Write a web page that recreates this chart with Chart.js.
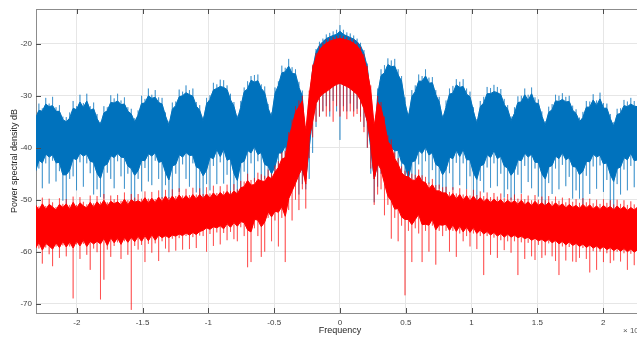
<!DOCTYPE html>
<html lang="en">
<head>
<meta charset="UTF-8" />
<title>Power spectral density</title>
<style>
  html, body { margin: 0; padding: 0; background: #fff; overflow: hidden; }
  canvas { display: block; }
</style>
</head>
<body>
<canvas id="psdChart" width="637" height="338"></canvas>
<script src="https://cdn.jsdelivr.net/npm/chart.js@4.4.1/dist/chart.umd.min.js"></script>
<script>
// frequency samples (x 1e4), one row per side lobe
const freq = [
  -2.314,-2.288,-2.262,-2.236,-2.210,-2.184,-2.158,-2.132,-2.106,
  -2.080,-2.054,-2.028,-2.002,-1.976,-1.950,-1.924,-1.898,-1.872,-1.846,
  -1.820,-1.794,-1.768,-1.742,-1.716,-1.690,-1.664,-1.638,-1.612,-1.586,
  -1.560,-1.534,-1.508,-1.482,-1.456,-1.430,-1.404,-1.378,-1.352,-1.326,
  -1.300,-1.274,-1.248,-1.222,-1.196,-1.170,-1.144,-1.118,-1.092,-1.066,
  -1.040,-1.014,-0.988,-0.962,-0.936,-0.910,-0.884,-0.858,-0.832,-0.806,
  -0.780,-0.754,-0.728,-0.702,-0.676,-0.650,-0.624,-0.598,-0.572,-0.546,
  -0.520,-0.494,-0.468,-0.442,-0.416,-0.390,-0.364,-0.338,-0.312,-0.286,
  -0.260,-0.234,-0.208,-0.182,-0.156,-0.130,-0.104,-0.078,-0.052,-0.026,
  0.000,0.026,0.052,0.078,0.104,0.130,0.156,0.182,0.208,0.234,
  0.260,0.286,0.312,0.338,0.364,0.390,0.416,0.442,0.468,0.494,
  0.520,0.546,0.572,0.598,0.624,0.650,0.676,0.702,0.728,0.754,
  0.780,0.806,0.832,0.858,0.884,0.910,0.936,0.962,0.988,1.014,
  1.040,1.066,1.092,1.118,1.144,1.170,1.196,1.222,1.248,1.274,
  1.300,1.326,1.352,1.378,1.404,1.430,1.456,1.482,1.508,1.534,
  1.560,1.586,1.612,1.638,1.664,1.690,1.716,1.742,1.768,1.794,
  1.820,1.846,1.872,1.898,1.924,1.950,1.976,2.002,2.028,2.054,
  2.080,2.106,2.132,2.158,2.184,2.210,2.236,2.262
];

// blue trace (dB): top of dense band, light hairs above it, bottom of dense band, light spikes below it
const blueHi = [
  -34.4,-32.8,-33.0,-31.6,-32.1,-31.9,-33.0,-33.0,-34.6,
  -35.0,-34.3,-32.4,-32.7,-31.2,-32.3,-31.0,-32.8,-32.5,-34.4,
  -35.6,-33.3,-32.9,-31.3,-31.4,-31.0,-31.7,-31.6,-33.0,-33.5,
  -35.1,-33.7,-31.5,-31.4,-30.0,-30.5,-30.3,-31.3,-31.6,-33.9,
  -35.7,-32.6,-31.9,-30.2,-30.0,-29.4,-29.8,-30.1,-32.0,-32.8,
  -34.9,-31.6,-30.7,-28.9,-28.6,-28.2,-28.4,-28.8,-30.8,-32.0,
  -34.6,-32.2,-29.2,-28.7,-27.0,-27.4,-27.1,-28.6,-29.4,-32.4,
  -34.2,-29.6,-28.0,-25.6,-25.4,-24.3,-25.7,-25.8,-28.4,-30.1,
  -41.0,-32.0,-25.0,-21.6,-20.3,-19.6,-19.0,-18.7,-18.4,-18.2,
  -17.6,-18.2,-18.5,-18.8,-19.1,-19.6,-20.4,-21.9,-24.6,-31.0,
  -41.5,-29.9,-26.1,-25.6,-24.0,-24.4,-24.3,-26.0,-27.2,-31.4,
  -34.2,-30.2,-29.2,-27.2,-27.2,-26.2,-27.6,-27.5,-29.8,-31.2,
  -34.5,-32.2,-29.7,-29.5,-27.9,-28.4,-28.2,-29.7,-30.2,-33.0,
  -35.4,-32.1,-31.4,-29.6,-29.6,-29.2,-29.4,-29.8,-31.7,-32.6,
  -34.8,-33.4,-31.3,-31.2,-29.8,-30.9,-29.6,-31.4,-31.5,-33.9,
  -35.7,-33.2,-32.7,-31.0,-31.1,-30.7,-31.2,-31.1,-32.8,-33.4,
  -35.0,-34.2,-32.2,-32.2,-30.8,-31.9,-30.6,-32.4,-32.4,-34.4,
  -35.9,-33.6,-33.4,-31.9,-32.1,-31.6,-32.0,-32.1
];
const blueHair = [
  -33.6,-31.5,-32.4,-30.4,-31.5,-30.2,-32.2,-31.8,-34.0,
  -34.1,-33.2,-31.0,-32.0,-29.8,-31.4,-29.6,-32.0,-31.3,-33.5,
  -35.0,-32.0,-32.2,-29.9,-30.5,-29.6,-30.9,-30.3,-32.2,-32.5,
  -34.3,-32.8,-30.0,-30.6,-28.6,-29.8,-28.9,-30.3,-30.4,-33.2,
  -34.9,-31.3,-31.1,-28.8,-29.2,-28.0,-28.9,-28.6,-31.2,-31.8,
  -34.0,-30.4,-29.9,-27.5,-27.8,-26.9,-27.0,-28.0,-29.6,-31.2,
  -33.8,-31.0,-28.4,-27.2,-26.2,-26.0,-25.9,-27.8,-28.2,-31.6,
  -33.2,-28.4,-27.2,-24.2,-24.6,-22.9,-24.5,-24.9,-27.3,-29.0,
  -40.0,-31.0,-24.2,-21.0,-19.6,-19.0,-18.2,-17.9,-17.6,-17.3,
  -16.4,-17.3,-17.8,-18.0,-18.4,-19.0,-19.8,-21.2,-23.8,-30.0,
  -40.5,-28.6,-24.9,-24.1,-22.8,-23.2,-22.9,-24.9,-26.2,-30.3,
  -33.4,-28.9,-28.0,-25.9,-26.2,-24.9,-26.5,-26.4,-28.9,-30.2,
  -33.8,-30.9,-28.6,-28.1,-26.8,-27.3,-26.8,-28.6,-29.2,-32.2,
  -34.5,-31.0,-30.2,-28.3,-28.5,-27.9,-28.3,-28.7,-30.6,-31.8,
  -34.0,-32.2,-30.1,-30.0,-28.6,-29.8,-28.4,-30.3,-30.7,-33.0,
  -34.9,-32.1,-31.6,-29.8,-30.0,-29.5,-30.2,-30.0,-31.9,-32.6,
  -34.2,-33.1,-31.0,-31.1,-29.7,-30.9,-29.4,-31.4,-31.5,-33.5,
  -35.1,-32.5,-32.4,-30.8,-31.1,-30.4,-31.0,-31.2
];
const blueLo = [
  -44.6,-42.4,-42.9,-41.2,-41.8,-41.3,-42.9,-42.8,-45.2,
  -45.2,-44.3,-42.0,-42.3,-41.0,-41.6,-41.2,-42.6,-42.8,-44.9,
  -45.9,-43.5,-43.1,-41.5,-41.9,-41.0,-41.8,-41.9,-43.5,-44.0,
  -45.3,-44.4,-42.4,-42.5,-41.1,-41.6,-40.9,-42.8,-42.6,-44.7,
  -46.2,-43.5,-43.2,-41.3,-41.8,-40.9,-41.5,-41.4,-43.7,-44.0,
  -45.4,-44.3,-41.8,-42.1,-40.3,-41.7,-40.2,-42.4,-42.1,-44.9,
  -46.3,-42.9,-42.6,-40.5,-41.0,-39.7,-41.3,-40.9,-43.2,-43.5,
  -45.0,-43.6,-41.0,-41.0,-39.6,-40.9,-39.5,-41.5,-42.0,-44.5,
  -46.0,-40.0,-34.0,-31.0,-29.5,-29.0,-28.5,-28.0,-28.0,-27.5,
  -27.5,-27.8,-28.0,-28.3,-28.7,-29.2,-30.2,-32.0,-35.0,-40.0,
  -46.0,-43.0,-42.0,-40.0,-40.5,-39.9,-40.6,-40.5,-42.8,-43.3,
  -45.9,-42.7,-42.5,-40.5,-41.1,-39.8,-41.4,-40.9,-43.2,-43.6,
  -45.2,-44.1,-41.8,-42.1,-40.4,-41.7,-40.3,-42.3,-42.3,-44.8,
  -46.1,-43.5,-43.2,-41.3,-41.9,-40.5,-42.1,-41.6,-43.5,-43.9,
  -45.3,-44.4,-42.3,-42.5,-41.0,-41.8,-41.2,-42.8,-42.8,-45.0,
  -46.0,-43.7,-43.4,-41.6,-42.1,-40.9,-42.3,-41.9,-43.6,-43.7,
  -45.2,-44.5,-42.6,-42.7,-41.2,-41.8,-41.4,-43.1,-42.9,-45.1,
  -46.5,-44.0,-43.7,-41.9,-42.3,-41.0,-42.5,-42.3
];
const blueMin = [
  -49.5,-44.0,-47.8,-43.0,-46.9,-42.5,-46.5,-44.5,-50.2,
  -51.0,-46.0,-45.5,-48.2,-42.8,-47.5,-43.0,-44.9,-49.0,-48.0,
  -49.5,-49.8,-44.8,-46.0,-47.8,-42.6,-45.5,-47.9,-45.0,-51.0,
  -51.5,-46.0,-48.4,-43.9,-46.5,-47.2,-42.5,-46.0,-49.8,-47.2,
  -49.8,-50.5,-45.0,-48.5,-43.2,-46.0,-47.5,-43.0,-48.6,-50.6,
  -51.8,-47.0,-48.2,-43.5,-47.0,-42.8,-46.9,-45.2,-49.5,-48.2,
  -49.0,-50.2,-44.6,-48.0,-43.0,-46.5,-42.6,-47.8,-46.0,-51.0,
  -51.4,-46.2,-47.8,-43.2,-46.9,-42.4,-46.0,-44.0,-49.0,-47.0,
  -48.0,-46.0,-41.0,-36.0,-34.0,-33.0,-32.0,-34.0,-31.0,-33.0,
  -38.5,-32.0,-33.0,-31.5,-33.0,-32.5,-34.0,-36.0,-40.0,-45.0,
  -50.5,-47.5,-45.0,-42.8,-47.0,-42.5,-46.8,-43.6,-49.0,-48.4,
  -52.0,-46.0,-48.3,-43.2,-47.5,-42.6,-46.9,-44.3,-49.3,-47.9,
  -49.6,-50.4,-44.9,-48.1,-42.9,-47.2,-43.0,-48.0,-45.5,-51.2,
  -51.8,-46.4,-48.6,-43.8,-47.7,-43.0,-47.4,-45.0,-49.6,-48.0,
  -50.0,-50.8,-45.2,-48.8,-43.5,-46.6,-47.8,-44.0,-49.4,-51.4,
  -52.0,-46.8,-48.9,-44.0,-48.0,-43.3,-47.4,-45.6,-49.8,-48.2,
  -49.8,-51.0,-45.4,-48.9,-43.6,-47.9,-43.4,-48.5,-46.2,-51.5,
  -52.2,-47.0,-49.0,-44.2,-48.2,-43.5,-47.6,-45.8
];

// red trace (dB): same four envelopes
const redHi = [
  -51.0,-52.0,-50.8,-51.9,-50.9,-51.4,-52.0,-50.9,-51.5,
  -50.8,-51.9,-50.5,-51.7,-50.6,-51.2,-51.6,-50.5,-51.5,-50.4,
  -51.2,-50.1,-51.3,-50.3,-50.8,-50.4,-51.0,-49.9,-51.0,-50.0,
  -50.5,-50.2,-50.6,-49.6,-50.7,-49.7,-50.6,-49.5,-50.4,-49.3,
  -50.3,-49.3,-50.2,-49.1,-50.0,-49.2,-50.0,-49.0,-49.9,-49.0,
  -49.8,-48.9,-49.7,-48.7,-49.5,-48.6,-49.3,-48.4,-49.2,-48.3,
  -48.9,-47.7,-47.5,-46.3,-47.2,-47.1,-46.1,-46.4,-46.5,-45.5,
  -46.0,-44.7,-43.8,-42.2,-41.9,-38.2,-35.9,-33.2,-32.1,-31.0,
  -37.0,-30.0,-25.0,-22.5,-21.2,-20.4,-19.9,-19.5,-19.3,-19.1,
  -19.0,-19.1,-19.3,-19.5,-19.9,-20.4,-21.3,-22.8,-25.3,-29.0,
  -36.0,-31.2,-32.3,-35.2,-38.8,-39.7,-42.1,-43.2,-44.8,-45.5,
  -45.6,-46.2,-46.3,-45.3,-46.5,-46.7,-47.9,-47.1,-48.3,-48.3,
  -48.7,-48.7,-49.6,-48.8,-49.9,-49.0,-50.1,-49.2,-50.3,-49.3,
  -50.3,-49.6,-50.4,-49.8,-50.6,-49.9,-50.5,-50.0,-50.8,-50.1,
  -50.7,-50.2,-50.9,-50.1,-51.0,-50.4,-51.2,-50.3,-51.1,-50.6,
  -51.2,-50.5,-51.4,-50.6,-51.3,-50.8,-51.6,-50.9,-51.5,-51.1,
  -51.7,-50.9,-51.6,-51.0,-51.8,-51.2,-51.9,-51.1,-51.7,-51.3,
  -52.0,-51.2,-51.9,-51.3,-52.1,-51.5,-52.0,-51.4
];
const redHair = [
  -50.2,-51.3,-49.6,-51.2,-49.8,-50.5,-51.4,-49.7,-50.8,
  -49.9,-51.0,-49.4,-51.0,-49.5,-50.4,-50.9,-49.2,-50.7,-49.3,
  -50.4,-48.9,-50.5,-49.2,-49.9,-49.1,-50.2,-48.6,-50.1,-48.9,
  -49.6,-48.9,-49.8,-48.4,-49.8,-48.5,-49.9,-48.2,-49.5,-48.1,
  -49.5,-48.0,-49.3,-47.8,-49.2,-47.9,-49.1,-47.7,-49.0,-47.8,
  -48.9,-47.6,-48.8,-47.3,-48.7,-47.4,-48.4,-47.1,-48.3,-47.0,
  -48.0,-46.4,-46.5,-45.0,-46.2,-45.8,-44.8,-45.1,-45.4,-44.2,
  -45.0,-43.4,-42.6,-40.9,-40.6,-37.0,-34.6,-32.0,-30.9,-30.0,
  -35.8,-29.0,-24.0,-21.8,-20.5,-19.8,-19.2,-18.9,-18.7,-18.5,
  -18.3,-18.5,-18.7,-18.9,-19.2,-19.8,-20.6,-22.0,-24.3,-28.0,
  -35.0,-30.0,-31.2,-34.0,-37.6,-38.4,-40.9,-42.0,-43.6,-44.4,
  -44.5,-45.0,-45.2,-44.2,-45.3,-45.6,-46.7,-46.0,-47.2,-47.1,
  -47.6,-47.5,-48.5,-47.6,-48.8,-47.8,-49.0,-48.0,-49.2,-48.1,
  -49.1,-48.4,-49.3,-48.6,-49.5,-48.7,-49.4,-48.8,-49.7,-48.9,
  -49.6,-49.0,-49.8,-48.9,-49.9,-49.2,-50.1,-49.1,-50.0,-49.4,
  -50.1,-49.3,-50.3,-49.4,-50.2,-49.6,-50.5,-49.7,-50.4,-49.9,
  -50.6,-49.7,-50.5,-49.8,-50.7,-50.0,-50.8,-49.9,-50.6,-50.1,
  -50.9,-50.0,-50.8,-50.1,-51.0,-50.3,-50.9,-50.2
];
const redLo = [
  -59.4,-58.2,-59.7,-58.4,-58.9,-59.5,-58.3,-59.2,-58.0,
  -59.1,-58.1,-59.3,-57.9,-58.9,-57.7,-59.0,-58.0,-58.5,-58.0,
  -58.5,-57.4,-58.8,-57.3,-58.3,-57.3,-58.6,-57.2,-58.2,-57.2,
  -58.1,-57.0,-58.0,-56.9,-57.9,-56.7,-57.8,-56.8,-57.3,-56.9,
  -57.3,-56.8,-57.0,-56.6,-56.9,-56.4,-56.8,-56.3,-56.7,-56.1,
  -55.9,-55.4,-55.7,-55.2,-55.4,-55.0,-55.6,-54.6,-55.3,-54.4,
  -55.1,-54.2,-54.4,-55.8,-56.2,-53.8,-53.9,-55.2,-54.3,-52.3,
  -53.3,-52.2,-52.4,-51.3,-53.2,-49.8,-48.3,-46.8,-45.2,-43.8,
  -47.0,-38.0,-35.0,-31.5,-30.3,-29.6,-29.2,-28.7,-28.2,-27.8,
  -27.6,-27.9,-28.2,-28.6,-29.2,-29.7,-30.8,-32.5,-35.0,-39.0,
  -46.0,-43.0,-44.2,-46.8,-49.3,-50.2,-51.8,-51.7,-53.3,-53.8,
  -53.8,-54.8,-53.8,-52.8,-54.8,-54.7,-54.9,-53.7,-55.8,-54.8,
  -54.9,-54.7,-55.9,-54.8,-56.1,-55.0,-56.2,-55.2,-56.3,-55.3,
  -56.5,-55.8,-56.6,-56.1,-56.8,-56.3,-57.0,-56.5,-57.2,-56.6,
  -57.2,-56.8,-57.3,-57.0,-57.5,-57.2,-57.8,-57.4,-57.9,-57.6,
  -58.1,-57.6,-58.3,-57.8,-58.5,-58.0,-58.7,-58.1,-58.8,-58.4,
  -59.0,-58.5,-59.2,-58.7,-59.3,-58.9,-59.5,-59.0,-59.6,-59.2,
  -59.8,-59.3,-59.9,-59.4,-60.0,-59.5,-60.1,-59.6
];
const redMin = [
  -61.8,-59.4,-62.3,-59.2,-60.5,-62.8,-59.0,-61.2,-58.8,
  -60.9,-59.0,-69.0,-58.6,-61.4,-58.5,-60.6,-63.5,-59.4,-60.1,
  -69.2,-65.4,-59.6,-61.0,-58.9,-58.2,-61.4,-58.0,-60.6,-71.2,
  -58.9,-59.6,-58.7,-62.0,-58.5,-60.2,-58.4,-61.8,-58.0,-59.4,
  -60.1,-57.5,-59.8,-57.4,-59.6,-57.0,-59.5,-57.2,-59.3,-56.9,
  -57.0,-60.0,-56.6,-58.9,-56.3,-58.6,-56.4,-57.8,-56.2,-57.6,
  -58.0,-55.3,-57.0,-63.0,-62.0,-55.5,-57.0,-61.0,-60.0,-53.5,
  -58.0,-54.0,-59.0,-53.5,-62.0,-52.0,-54.0,-50.0,-52.0,-48.0,
  -51.7,-42.0,-38.0,-35.0,-34.0,-33.0,-34.0,-33.0,-35.0,-32.0,
  -34.0,-33.0,-34.5,-33.0,-34.0,-33.5,-35.0,-37.0,-40.0,-44.0,
  -51.0,-49.0,-48.0,-53.0,-51.0,-57.5,-53.5,-58.0,-55.0,-68.4,
  -56.0,-62.0,-55.5,-56.5,-62.0,-56.0,-60.0,-55.0,-62.5,-56.0,
  -57.0,-56.0,-60.0,-56.0,-61.0,-56.5,-58.0,-57.0,-59.0,-56.5,
  -59.5,-57.0,-64.5,-57.0,-60.6,-57.3,-61.2,-57.8,-59.7,-58.0,
  -60.2,-58.0,-64.5,-58.2,-61.4,-58.3,-60.9,-61.6,-58.7,-61.2,
  -60.7,-58.4,-60.9,-61.8,-64.5,-59.0,-61.7,-59.1,-61.9,-62.0,
  -61.2,-59.3,-61.4,-64.0,-59.9,-63.5,-60.0,-62.0,-60.3,-62.2,
  -61.7,-60.0,-61.9,-60.3,-63.5,-60.4,-62.6,-66.0
];

const xTicks = [-2, -1.5, -1, -0.5, 0, 0.5, 1, 1.5, 2];
const xTickLabels = ['-2', '-1.5', '-1', '-0.5', '0', '0.5', '1', '1.5', '2'];
const yTicks = [-70, -60, -50, -40, -30, -20];
const yTickLabels = ['-70', '-60', '-50', '-40', '-30', '-20'];

const BLUE = '#0072BD';
const RED = '#FF0000';
const BLUE_LIGHT = 'rgba(0,114,189,0.5)';
const RED_LIGHT = 'rgba(255,0,0,0.45)';
const FONT = '"Liberation Sans", Arial, Helvetica, sans-serif';

function edge(vals) {
    return freq.map((f, i) => ({x: f, y: vals[i]}));
}

// thin vertical strokes from a band edge out to each spike tip
function spikes(base, tip) {
    const pts = [];
    freq.forEach((f, i) => {
        pts.push({x: f, y: base[i]}, {x: f, y: tip[i]}, {x: f, y: base[i]});
    });
    return pts;
}

function line(data, color, extra) {
    return Object.assign({
        data: data,
        borderColor: color,
        borderWidth: 1,
        pointRadius: 0,
        tension: 0,
        fill: false
    }, extra);
}

const frame = {
    id: 'frame',
    afterDraw(chart) {
        const {ctx, chartArea: a, scales: {x, y}} = chart;
        ctx.save();
        ctx.strokeStyle = '#8c8c8c';
        ctx.lineWidth = 1;
        ctx.beginPath();
        ctx.moveTo(a.left, a.top + 0.5);
        ctx.lineTo(a.right, a.top + 0.5);
        ctx.stroke();

        ctx.strokeStyle = '#4d4d4d';
        ctx.beginPath();
        xTicks.forEach(v => {
            const px = Math.round(x.getPixelForValue(v)) + 0.5;
            ctx.moveTo(px, a.top);
            ctx.lineTo(px, a.top + 5);
            ctx.moveTo(px, a.bottom);
            ctx.lineTo(px, a.bottom - 5);
        });
        yTicks.forEach(v => {
            const py = Math.round(y.getPixelForValue(v)) + 0.5;
            ctx.moveTo(a.left, py);
            ctx.lineTo(a.left + 5, py);
        });
        ctx.stroke();

        ctx.fillStyle = '#262626';
        ctx.font = '9px ' + FONT;
        ctx.textAlign = 'center';
        ctx.textBaseline = 'middle';
        ctx.fillText('Frequency', x.getPixelForValue(0), 331);

        ctx.save();
        ctx.translate(15, (a.top + a.bottom) / 2);
        ctx.rotate(-Math.PI / 2);
        ctx.fillText('Power spectral density dB', 0, 0);
        ctx.restore();

        ctx.fillStyle = '#595959';
        ctx.font = '8px ' + FONT;
        ctx.textAlign = 'left';
        ctx.fillText('\u00d7 10', 623, 331);
        ctx.font = '6px ' + FONT;
        ctx.fillText('4', 638, 327);
        ctx.restore();
    }
};

new Chart(document.getElementById('psdChart'), {
    type: 'line',
    data: {
        datasets: [
            line(edge(redHi), RED, {fill: '+1', backgroundColor: RED, order: 0}),
            line(edge(redLo), RED, {order: 1}),
            line(spikes(redLo, redMin), RED_LIGHT, {order: 2}),
            line(spikes(redHi, redHair), RED_LIGHT, {order: 3}),
            line(edge(blueHi), BLUE, {fill: '+1', backgroundColor: BLUE, order: 4}),
            line(edge(blueLo), BLUE, {order: 5}),
            line(spikes(blueLo, blueMin), BLUE_LIGHT, {order: 6}),
            line(spikes(blueHi, blueHair), BLUE_LIGHT, {order: 7})
        ]
    },
    options: {
        responsive: false,
        animation: false,
        devicePixelRatio: 1,
        layout: {padding: {top: 9, right: 0, left: 0, bottom: 0}},
        plugins: {legend: {display: false}, tooltip: {enabled: false}},
        scales: {
            x: {
                type: 'linear',
                min: -2.31,
                max: 2.257,
                offset: false,
                afterFit: s => { s.height = 25; },
                afterBuildTicks: s => { s.ticks = xTicks.map(v => ({value: v})); },
                grid: {color: '#e6e6e6', drawTicks: false, offset: false},
                border: {display: true, color: '#8c8c8c'},
                ticks: {
                    padding: 5,
                    color: '#404040',
                    font: {size: 8, family: FONT},
                    maxRotation: 0,
                    autoSkip: false,
                    callback: (v, i) => xTickLabels[i]
                }
            },
            y: {
                type: 'linear',
                min: -71.8,
                max: -13.3,
                afterFit: s => { s.width = 36; },
                afterBuildTicks: s => { s.ticks = yTicks.map(v => ({value: v})); },
                grid: {color: '#e6e6e6', drawTicks: false},
                border: {display: true, color: '#8c8c8c'},
                ticks: {
                    padding: 4,
                    color: '#404040',
                    font: {size: 8, family: FONT},
                    autoSkip: false,
                    callback: (v, i) => yTickLabels[i]
                }
            }
        }
    },
    plugins: [frame]
});
</script>
</body>
</html>
